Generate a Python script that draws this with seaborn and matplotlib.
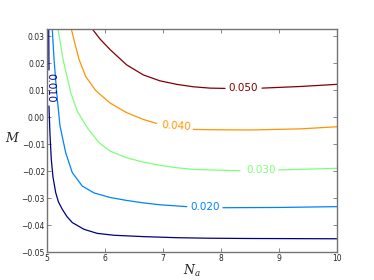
import numpy as np
import matplotlib
matplotlib.use('Agg')
import matplotlib.pyplot as plt
import seaborn as sns

# contour levels and their labels
levels = [0.010, 0.020, 0.030, 0.040, 0.050]
label_text = ['0.010', '0.020', '0.030', '0.040', '0.050']

# contour lines, split where the inline label sits
na_010 = [[5.030, 5.032, 5.034],
          [5.034, 5.052, 5.074, 5.103, 5.150, 5.198, 5.264, 5.345, 5.436, 5.638, 5.867, 6.155,
           6.660, 7.236, 7.810, 8.5, 10.0]]
m_010 = [[0.0326, 0.0248, 0.0174],
         [0.0041, -0.0067, -0.0157, -0.0222, -0.0280, -0.0315, -0.0342, -0.0369, -0.0391, -0.0416,
          -0.0431, -0.0438, -0.0443, -0.0447, -0.0449, -0.0450, -0.0451]]

na_020 = [[5.091, 5.121, 5.167, 5.224, 5.322, 5.436, 5.609, 5.810, 6.086, 6.374, 6.660, 6.948, 7.409],
          [8.034, 9.017, 10.0]]
m_020 = [[0.0326, 0.0214, 0.0090, -0.0033, -0.0132, -0.0206, -0.0256, -0.0281, -0.0298, -0.0309,
          -0.0318, -0.0325, -0.0332],
         [-0.0336, -0.0335, -0.0332]]

na_030 = [[5.190, 5.276, 5.409, 5.522, 5.695, 5.897, 6.086, 6.374, 6.660, 6.948, 7.236, 7.522, 7.810, 8.328],
          [8.995, 10.0]]
m_030 = [[0.0326, 0.0214, 0.0090, 0.0022, -0.0040, -0.0095, -0.0126, -0.0151, -0.0167, -0.0179, -0.0188,
          -0.0194, -0.0196, -0.0199],
         [-0.0196, -0.0190]]

na_040 = [[5.419, 5.478, 5.552, 5.667, 5.840, 6.086, 6.374, 6.660, 6.891],
          [7.522, 7.810, 8.5, 9.362, 10.0]]
m_040 = [[0.0326, 0.0275, 0.0214, 0.0150, 0.0098, 0.0052, 0.0016, -0.0009, -0.0024],
         [-0.0046, -0.0047, -0.0048, -0.0044, -0.0036]]

na_050 = [[5.781, 5.914, 6.086, 6.374, 6.660, 6.948, 7.236, 7.522, 7.810, 8.069],
          [8.707, 9.362, 10.0]]
m_050 = [[0.0326, 0.0289, 0.0250, 0.0193, 0.0156, 0.0134, 0.0121, 0.0112, 0.0107, 0.0106],
         [0.0107, 0.0113, 0.0121]]

# where the inline labels sit (N_a, M, rotation)
label_na = [5.05, 7.733, 8.69, 7.222, 8.388]
label_m = [0.0109, -0.0335, -0.0196, -0.0034, 0.0106]
label_rot = [-90, 0, 0, -4, 0]

sns.set_style('ticks')
plt.rcParams['font.family'] = ['DejaVu Sans']
plt.rcParams['mathtext.fontset'] = 'dejavuserif'

fig = plt.figure(figsize=(3.74, 2.80), dpi=100)
ax = fig.add_axes([47 / 374, 1 - 252 / 280, 290 / 374, 223 / 280])

cmap = plt.get_cmap('jet')
colors = [cmap(i / (len(levels) - 1)) for i in range(len(levels))]

all_na = [na_010, na_020, na_030, na_040, na_050]
all_m = [m_010, m_020, m_030, m_040, m_050]

for k in range(len(levels)):
    for xs, ys in zip(all_na[k], all_m[k]):
        sns.lineplot(x=xs, y=ys, sort=False, estimator=None, color=colors[k], linewidth=0.9, ax=ax)
    ax.text(label_na[k], label_m[k], label_text[k], color=colors[k], fontsize=7.5,
            ha='center', va='center', rotation=label_rot[k], rotation_mode='anchor')

ax.set_xlim(5, 10)
ax.set_ylim(-0.05, 0.0326)
ax.set_xticks([5, 6, 7, 8, 9, 10])
ax.set_yticks([-0.05, -0.04, -0.03, -0.02, -0.01, 0.00, 0.01, 0.02, 0.03])
ax.set_yticklabels(['\u22120.05', '\u22120.04', '\u22120.03', '\u22120.02', '\u22120.01',
                    '0.00', '0.01', '0.02', '0.03'])
ax.tick_params(direction='in', top=True, right=True, labelsize=5.5, length=3, width=0.6,
               color='0.45', pad=1.5)
for s in ax.spines.values():
    s.set_visible(True)
    s.set_color('0.45')
    s.set_linewidth(1.0)

ax.set_xlabel('$N_a$', fontsize=9, labelpad=0)
ax.set_ylabel('$M$', fontsize=9, rotation=0, labelpad=8)
ax.yaxis.set_label_coords(-0.12, 0.48)

fig.savefig('out.png', dpi=100)
